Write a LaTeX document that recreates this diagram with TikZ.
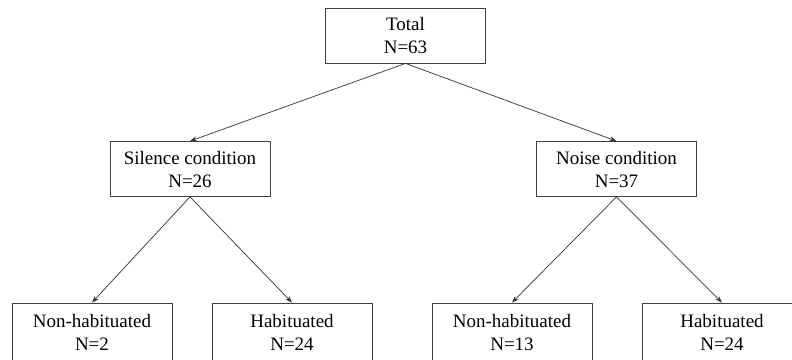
\documentclass[tikz,border=0pt]{standalone}
\usepackage{fontspec}
\setmainfont{Liberation Serif}
\usetikzlibrary{arrows.meta, positioning}

\begin{document}
\begin{tikzpicture}[
    x=1pt, y=1pt,
    node distance=133.5pt and 215pt, on grid,
    box/.style={rectangle, draw=black!75, line width=0.8pt, fill=white,
                minimum width=160pt, minimum height=55pt, align=center,
                font=\fontsize{19}{23}\selectfont, inner sep=0pt},
    leaf/.style={box, minimum height=59pt},
    arrow/.style={line width=0.7pt, draw=black!80, -{Stealth[length=7pt,width=5pt]}}
  ]
  \useasboundingbox (0,0) rectangle (792,-359);
  \clip (0,0) rectangle (792,-359);

  \node (T)   [box] at (405.5,-35.5) {Total\\N=63};
  \node (Sil) [box, below left=133.5pt and 215.5pt of T]  {Silence condition\\N=26};
  \node (Noi) [box, below right=133.5pt and 211pt of T]   {Noise condition\\N=37};
  \node (NH1) [leaf, below left=163.5pt and 98pt of Sil]    {Non-habituated\\N=2};
  \node (H1)  [leaf, below right=163.5pt and 102pt of Sil]  {Habituated\\N=24};
  \node (NH2) [leaf, below left=163.5pt and 104.5pt of Noi] {Non-habituated\\N=13};
  \node (H2)  [leaf, below right=163.5pt and 105.5pt of Noi] {Habituated\\N=24};

  \draw [arrow] (T.south)   -- (Sil.north);
  \draw [arrow] (T.south)   -- (Noi.north);
  \draw [arrow] (Sil.south) -- (NH1.north);
  \draw [arrow] (Sil.south) -- (H1.north);
  \draw [arrow] (Noi.south) -- (NH2.north);
  \draw [arrow] (Noi.south) -- (H2.north);
\end{tikzpicture}
\end{document}
